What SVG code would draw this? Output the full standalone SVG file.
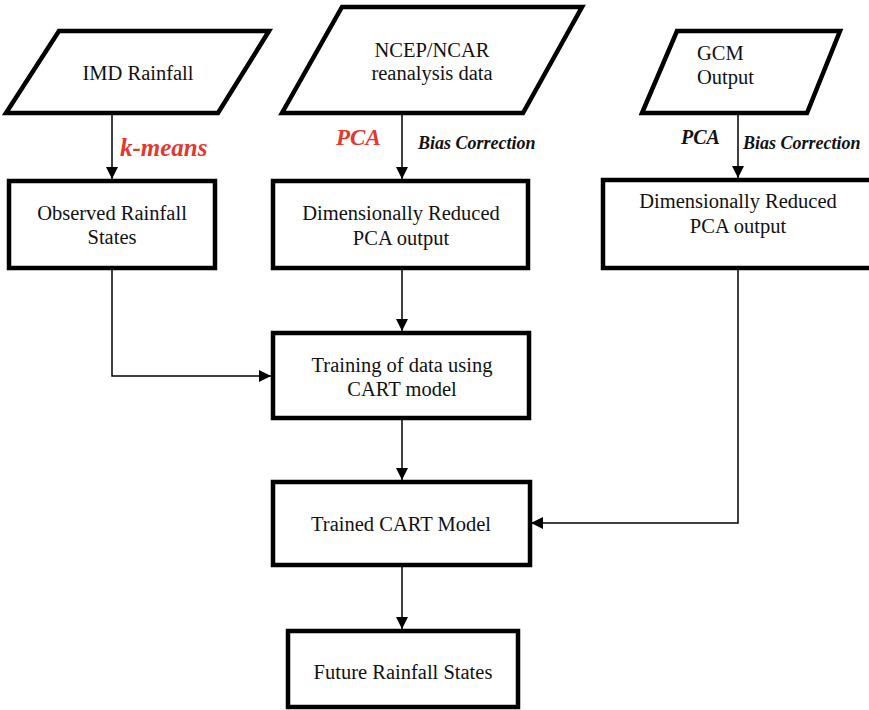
<svg xmlns="http://www.w3.org/2000/svg" width="869" height="710" viewBox="0 0 869 710">
  <style>
    .shape { fill: #ffffff; stroke: #000000; stroke-width: 4.5; stroke-linejoin: miter; }
    .lbl { font-family: "Liberation Serif", "Times New Roman", serif; font-size: 20.5px; fill: #111111; text-anchor: middle; }
    .left { text-anchor: start; }
    .tag { font-family: "Liberation Serif", "Times New Roman", serif; font-weight: bold; font-style: italic; fill: #111111; }
    .red { fill: #e2382e; }
    .wire { fill: none; stroke: #000000; stroke-width: 1.5; }
  </style>
  <defs>
    <marker id="arrow" viewBox="0 0 12 12" refX="12" refY="6" markerWidth="12" markerHeight="12" markerUnits="userSpaceOnUse" orient="auto">
      <path d="M0,0 L12,6 L0,12 Z" fill="#000000"/>
    </marker>
  </defs>
  <rect width="869" height="710" fill="#ffffff"/>

  <!-- connectors -->
  <g id="connectors">
    <line class="wire" x1="112" y1="113" x2="112" y2="179" marker-end="url(#arrow)"/>
    <line class="wire" x1="402" y1="113" x2="402" y2="179" marker-end="url(#arrow)"/>
    <line class="wire" x1="738" y1="113" x2="738" y2="178" marker-end="url(#arrow)"/>
    <polyline class="wire" points="112,268 112,376 271,376" marker-end="url(#arrow)"/>
    <line class="wire" x1="402" y1="268" x2="402" y2="331" marker-end="url(#arrow)"/>
    <line class="wire" x1="402" y1="418" x2="402" y2="480" marker-end="url(#arrow)"/>
    <polyline class="wire" points="738,268 738,523 531,523" marker-end="url(#arrow)"/>
    <line class="wire" x1="402" y1="565" x2="402" y2="629" marker-end="url(#arrow)"/>
    <text class="tag red" x="120" y="156" font-size="25">k-means</text>
    <text class="tag red" x="336" y="145" font-size="23">PCA</text>
    <text class="tag" x="418" y="149" font-size="18">Bias Correction</text>
    <text class="tag" x="681" y="144" font-size="20">PCA</text>
    <text class="tag" x="743" y="149" font-size="18">Bias Correction</text>
  </g>

  <g id="imd-rainfall">
    <polygon class="shape" points="59,31 269,31 218,113 6,113"/>
    <text class="lbl" x="138" y="80">IMD Rainfall</text>
  </g>

  <g id="ncep-ncar">
    <polygon class="shape" points="342,7 582,7 523,113 282,113"/>
    <text class="lbl" x="432" y="57">NCEP/NCAR</text>
    <text class="lbl" x="432" y="80">reanalysis data</text>
  </g>

  <g id="gcm-output">
    <polygon class="shape" points="677,31 840,31 807,113 642,113"/>
    <text class="lbl left" x="697" y="60">GCM</text>
    <text class="lbl left" x="697" y="84">Output</text>
  </g>

  <g id="observed-states">
    <rect class="shape" x="9" y="181" width="206" height="87"/>
    <text class="lbl" x="112" y="220">Observed Rainfall</text>
    <text class="lbl" x="112" y="244">States</text>
  </g>

  <g id="reduced-ncep">
    <rect class="shape" x="273" y="181" width="255" height="87"/>
    <text class="lbl" x="401" y="220">Dimensionally Reduced</text>
    <text class="lbl" x="401" y="245">PCA output</text>
  </g>

  <g id="reduced-gcm">
    <rect class="shape" x="603" y="180" width="280" height="88"/>
    <text class="lbl" x="738" y="208">Dimensionally Reduced</text>
    <text class="lbl" x="738" y="233">PCA output</text>
  </g>

  <g id="training">
    <rect class="shape" x="273" y="333" width="256" height="85"/>
    <text class="lbl" x="402" y="372">Training of data using</text>
    <text class="lbl" x="402" y="396">CART model</text>
  </g>

  <g id="trained-model">
    <rect class="shape" x="273" y="482" width="257" height="83"/>
    <text class="lbl" x="401" y="531">Trained CART Model</text>
  </g>

  <g id="future-states">
    <rect class="shape" x="288" y="631" width="230" height="76"/>
    <text class="lbl" x="403" y="679">Future Rainfall States</text>
  </g>
</svg>
